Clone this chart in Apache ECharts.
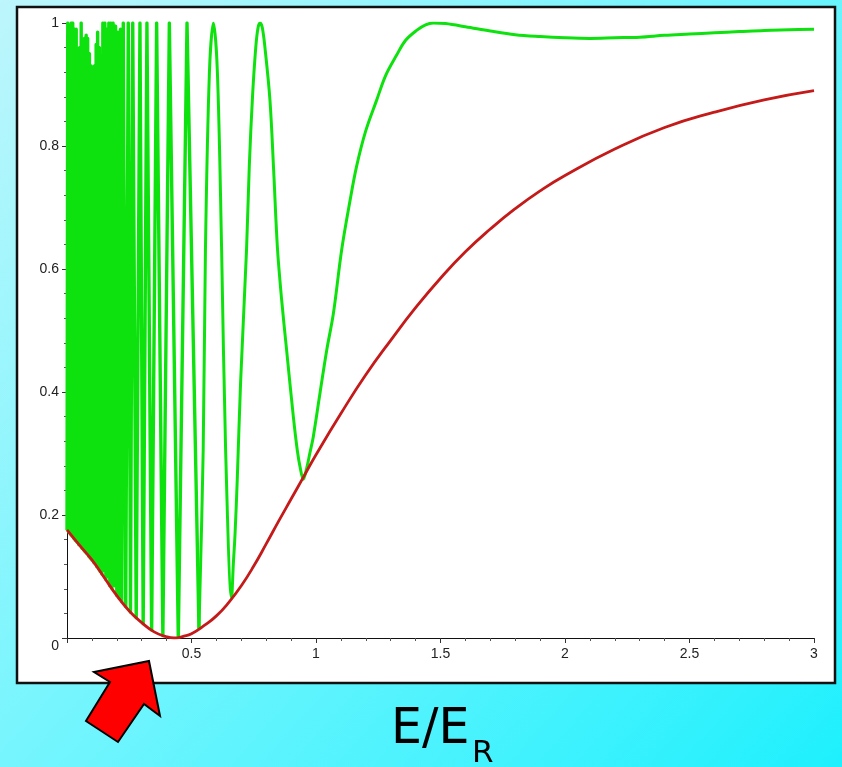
<!DOCTYPE html>
<html>
<head>
<meta charset="utf-8">
<script src="https://cdn.jsdelivr.net/npm/echarts@6/dist/echarts.min.js"></script>
<style>
  html, body { margin: 0; padding: 0; }
  #chart { width: 842px; height: 767px; }
</style>
</head>
<body>
<div id="chart"></div>
<script>
// red curve: lower envelope
const redE = [0, 0.05, 0.1, 0.15, 0.2, 0.25, 0.3, 0.35, 0.4, 0.43, 0.47, 0.5, 0.55, 0.6, 0.65, 0.7, 0.75, 0.8, 0.85, 0.9, 0.95,
  1.0, 1.1, 1.2, 1.3, 1.4, 1.5, 1.6, 1.7, 1.8, 1.9, 2.0, 2.2, 2.4, 2.6, 2.8, 3.0];
const redT = [0.176, 0.151, 0.127, 0.098, 0.069, 0.044, 0.025, 0.010, 0.002, 0, 0.003, 0.007, 0.02, 0.036, 0.058, 0.085, 0.117, 0.153, 0.19, 0.226, 0.262,
  0.298, 0.365, 0.428, 0.484, 0.537, 0.585, 0.628, 0.665, 0.698, 0.727, 0.752, 0.795, 0.83, 0.855, 0.875, 0.89];

// green curve, packed oscillations near E = 0 (trough, peak, trough, ...)
const denseE = [0, 0.003, 0.007, 0.010, 0.013, 0.017, 0.020, 0.023, 0.027, 0.030, 0.033, 0.037, 0.040, 0.043,
  0.047, 0.050, 0.053, 0.057, 0.060, 0.063, 0.067, 0.070, 0.073, 0.077, 0.080, 0.083, 0.087, 0.090, 0.093,
  0.097, 0.100, 0.103, 0.107, 0.110, 0.113, 0.117, 0.120, 0.123, 0.127, 0.130, 0.133, 0.136, 0.140, 0.144,
  0.148, 0.152, 0.156, 0.160, 0.164, 0.168, 0.172, 0.176, 0.180, 0.185, 0.190, 0.195, 0.200, 0.205, 0.210,
  0.215, 0.220, 0.226, 0.236, 0.246, 0.255, 0.264, 0.278, 0.293, 0.306, 0.321, 0.340, 0.360, 0.385, 0.411,
  0.447, 0.482, 0.530];
const denseT = [0.175, 1.0, 0.172, 0.995, 0.169, 1.0, 0.166, 1.0, 0.162, 0.99, 0.159, 0.99, 0.156, 0.94,
  0.152, 0.96, 0.15, 1.0, 0.146, 0.97, 0.143, 0.975, 0.14, 0.98, 0.137, 0.975, 0.133, 0.95, 0.13,
  0.93, 0.127, 0.905, 0.123, 0.93, 0.121, 0.965, 0.116, 0.985, 0.112, 0.96, 0.108, 0.935, 0.104, 1.0,
  0.11, 1.0, 0.095, 0.99, 0.1, 1.0, 0.085, 1.0, 0.081, 1.0, 0.085, 0.995, 0.069, 0.985, 0.064,
  0.99, 0.059, 1.0, 0.051, 1.0, 0.042, 1.0, 0.033, 1.0, 0.023, 1.0, 0.013, 1.0, 0.004, 1.0,
  0.001, 1.0, 0.015];

// green curve, resolved part (continues from the last packed point)
const greenE = [0.547, 0.556, 0.572, 0.588, 0.604, 0.621, 0.637, 0.661, 0.668, 0.675, 0.684, 0.697, 0.721, 0.732,
  0.745, 0.758, 0.767, 0.775, 0.784, 0.795, 0.815, 0.83, 0.845, 0.862, 0.882, 0.909, 0.925, 0.937, 0.949,
  0.962, 0.975, 0.989, 1.016, 1.043, 1.07, 1.103, 1.137, 1.163, 1.2, 1.244, 1.28, 1.324, 1.36, 1.404, 1.44,
  1.471, 1.52, 1.6, 1.7, 1.8, 1.9, 2.0, 2.1, 2.2, 2.3, 2.4, 2.5, 2.6, 2.7, 2.8, 2.9, 3.0];
const greenT = [0.306, 0.631, 0.92, 1.0, 0.92, 0.631, 0.306, 0.065, 0.12, 0.17, 0.26, 0.414, 0.631, 0.766,
  0.88, 0.96, 0.992, 1.0, 0.993, 0.96, 0.875, 0.76, 0.635, 0.55, 0.468, 0.36, 0.305, 0.276, 0.258,
  0.275, 0.3, 0.327, 0.398, 0.468, 0.528, 0.631, 0.712, 0.767, 0.825, 0.875, 0.915, 0.948, 0.972, 0.988, 0.997,
  1.0, 0.999, 0.994, 0.987, 0.981, 0.978, 0.976, 0.975, 0.976, 0.977, 0.98, 0.982, 0.984, 0.986, 0.988, 0.989, 0.99];

const xTicks = { min: 0, max: 3, step: 0.5 };
const yTicks = { min: 0, max: 1, step: 0.2 };

const zip = (xs, ys) => xs.map((x, i) => [x, ys[i]]);
const redData = zip(redE, redT);
const denseData = zip(denseE, denseT);
const greenData = [denseData[denseData.length - 1]].concat(zip(greenE, greenT));

const chart = echarts.init(document.getElementById('chart'));

const fontFam = 'Liberation Sans, Arial, sans-serif';
const green = '#0ee20e';

chart.setOption({
  animation: false,
  backgroundColor: new echarts.graphic.LinearGradient(0, 0, 1, 1, [
    { offset: 0, color: '#bdf6fc' },
    { offset: 0.5, color: '#6ff5fe' },
    { offset: 1, color: '#1ef0fd' }
  ]),
  grid: { left: 67, right: 28, top: 23, bottom: 129 },
  xAxis: {
    type: 'value', min: xTicks.min, max: xTicks.max, interval: xTicks.step,
    axisLine: { lineStyle: { color: '#111', width: 1 } },
    axisTick: { length: 5, lineStyle: { color: '#333' } },
    minorTick: { show: true, splitNumber: 5, length: 3, lineStyle: { color: '#555' } },
    splitLine: { show: false },
    axisLabel: { margin: 9, color: '#222', fontSize: 14, fontFamily: fontFam,
      formatter: v => (v === 0 ? '' : String(v)) }
  },
  yAxis: {
    type: 'value', min: yTicks.min, max: yTicks.max, interval: yTicks.step,
    axisLine: { show: true, lineStyle: { color: '#111', width: 1 } },
    axisTick: { show: true, length: 5, lineStyle: { color: '#333' } },
    minorTick: { show: true, splitNumber: 5, length: 3, lineStyle: { color: '#555' } },
    splitLine: { show: false },
    axisLabel: {
      margin: 8, color: '#222', fontSize: 14, fontFamily: fontFam,
      formatter: v => (v === 0 ? '{z|0}' : String(Math.round(v * 10) / 10)),
      rich: { z: { padding: [16, 0, 0, 0], color: '#222', fontSize: 14, fontFamily: fontFam } }
    }
  },
  graphic: [
    { type: 'rect', z: -10, shape: { x: 17, y: 7, width: 818, height: 676 },
      style: { fill: '#fff', stroke: '#111', lineWidth: 2.5 } },
    { type: 'polygon', z: 10,
      shape: { points: [[149, 661], [160, 716], [144, 704], [118, 742], [86, 721], [110, 682], [94, 672]] },
      style: { fill: '#ff0000', stroke: '#000', lineWidth: 2 } },
    { type: 'text', left: 391, top: 706,
      style: { text: 'E/E', fill: '#000', font: '49px "DejaVu Sans", sans-serif' } },
    { type: 'text', left: 472, top: 738,
      style: { text: 'R', fill: '#000', font: '31px "DejaVu Sans", sans-serif' } }
  ],
  series: [
    {
      name: 'green packed', type: 'line', data: denseData, showSymbol: false, z: 2,
      lineStyle: { color: green, width: 3.4, join: 'round' }
    },
    {
      name: 'green', type: 'line', data: greenData, smooth: 0.35, showSymbol: false, z: 2,
      lineStyle: { color: green, width: 3 }
    },
    {
      name: 'red', type: 'line', data: redData, smooth: true, showSymbol: false, z: 3,
      lineStyle: { color: '#c41a1a', width: 2.8 }
    }
  ]
});
</script>
</body>
</html>
